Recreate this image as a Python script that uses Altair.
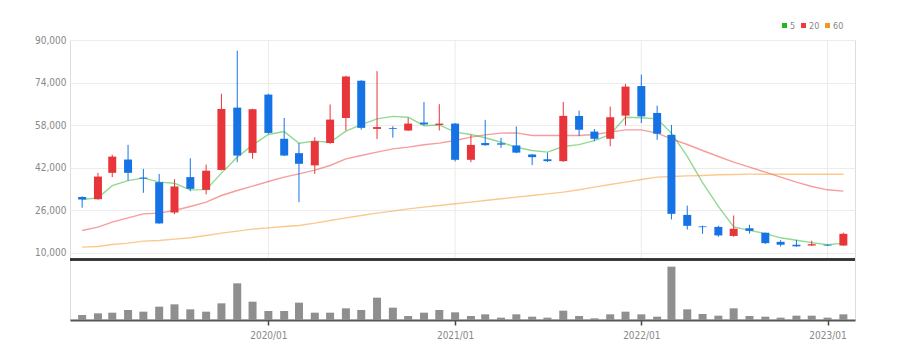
import altair as alt
import pandas as pd

# ---- data (monthly candles) ----
months = [
    "2019-01", "2019-02", "2019-03", "2019-04", "2019-05", "2019-06", "2019-07", "2019-08", "2019-09", "2019-10", "2019-11", "2019-12",
    "2020-01", "2020-02", "2020-03", "2020-04", "2020-05", "2020-06", "2020-07", "2020-08", "2020-09", "2020-10", "2020-11", "2020-12",
    "2021-01", "2021-02", "2021-03", "2021-04", "2021-05", "2021-06", "2021-07", "2021-08", "2021-09", "2021-10", "2021-11", "2021-12",
    "2022-01", "2022-02", "2022-03", "2022-04", "2022-05", "2022-06", "2022-07", "2022-08", "2022-09", "2022-10", "2022-11", "2022-12",
    "2023-01", "2023-02",
]
open_ = [31000, 30200, 40100, 45100, 38300, 36600, 25200, 38500, 33700, 41200, 64600, 47600,
         69500, 52900, 47500, 42900, 51300, 60700, 74700, 56600, 56900, 56000, 59000, 58100,
         58600, 45000, 51300, 51200, 50400, 47000, 45200, 44500, 61500, 55600, 52900, 61600,
         72700, 62600, 54400, 24300, 20000, 19800, 16400, 19300, 17600, 14200, 13100, 12800,
         13100, 12800]
high = [31300, 40100, 46900, 50600, 41600, 39700, 37700, 45600, 43200, 69800, 86000, 64200,
        69800, 60700, 51300, 53500, 65800, 76600, 74900, 78300, 57600, 60800, 66700, 65900,
        58800, 54400, 60000, 53300, 57500, 47200, 47700, 66700, 63500, 56600, 65000, 73500,
        77000, 65300, 58100, 27800, 20300, 20200, 24100, 20600, 17700, 14800, 14900, 14600,
        13200, 17600]
low = [27000, 30000, 38500, 37200, 32600, 21000, 24600, 33200, 32000, 41000, 44100, 45400,
       54700, 46400, 29100, 39700, 51000, 56000, 56300, 52800, 53300, 55800, 58000, 56000,
       44400, 44100, 50300, 49500, 47500, 43000, 44200, 44200, 53900, 52000, 50100, 57900,
       58800, 52500, 22600, 18800, 17200, 16100, 16100, 17300, 13400, 12400, 12300, 12600,
       12700, 12700]
close = [30100, 38700, 46200, 40100, 37900, 21100, 35000, 34100, 40900, 64100, 46600, 64000,
         55100, 46600, 43500, 52000, 60100, 76300, 57000, 57300, 56600, 58600, 58300, 58600,
         45000, 50600, 50500, 50700, 47700, 46000, 44500, 61500, 56300, 52900, 61000, 72500,
         61300, 54800, 24700, 20200, 19700, 16600, 19100, 18300, 13700, 13100, 12500, 13300,
         12800, 17200]
volume = [15, 20, 22, 30, 25, 40, 47, 32, 25, 50, 110, 55,
          27, 27, 52, 22, 22, 35, 30, 67, 37, 12, 22, 30,
          23, 12, 17, 7, 17, 10, 7, 28, 12, 5, 17, 25,
          17, 10, 160, 32, 18, 13, 35, 12, 10, 7, 13, 13,
          7, 17]
ma5 = [30100, 30700, 35300, 37200, 38200, 36600, 36200, 33700, 33800, 40000, 46000, 50500,
       54500, 55600, 51200, 52000, 51600, 55800, 58200, 60400, 61300, 61000, 57800, 58100,
       55400, 54500, 53300, 51600, 49700, 48500, 47900, 50000, 50700, 52200, 54500, 61000,
       60800, 60400, 55000, 46300, 36400, 27500, 19800, 18500, 17300, 15700, 14800, 13900,
       13100, 13700]
ma20 = [18450, 19700, 21580, 23210, 24710, 24960, 25960, 27460, 29090, 31600, 33470, 35100,
        36850, 38480, 39700, 41120, 42870, 45370, 46620, 47870, 49120, 49750, 50630, 51250,
        52250, 53500, 54380, 55010, 55130, 54140, 54140, 54140, 54140, 54510, 55380, 56260,
        56260, 55010, 52880, 50750, 48500, 46250, 44120, 42240, 40360, 38480, 36600, 34980,
        33730, 33220]
ma60 = [12190, 12440, 13190, 13690, 14440, 14700, 15200, 15700, 16570, 17450, 18200, 18950,
        19450, 19950, 20330, 21200, 22200, 23210, 24090, 24960, 25710, 26590, 27210, 27840,
        28470, 29090, 29720, 30350, 30970, 31600, 32220, 32850, 33730, 34730, 35730, 36600,
        37600, 38480, 38730, 38980, 39110, 39360, 39490, 39610, 39600, 39600, 39600, 39600,
        39600, 39600]
ma_names = ["5", "20", "60"]
ma_colors = ["#22b822", "#ee3b3b", "#f7941d"]
price_ticks = [10000, 26000, 42000, 58000, 74000, 90000]
year_ticks = [2020, 2021, 2022, 2023]

UP = "#e8353a"
DOWN = "#1673e6"
FONT = "Liberation Sans Narrow, DejaVu Sans Condensed, Roboto Condensed, Arial Narrow, sans-serif"

# ---- tables ----
df = pd.DataFrame({
    "date": pd.to_datetime([m + "-01" for m in months]),
    "open": open_, "high": high, "low": low, "close": close, "volume": volume,
})
ma_df = pd.concat([
    pd.DataFrame({"date": df["date"], "value": vals, "ma": name})
    for name, vals in zip(ma_names, [ma5, ma20, ma60])
])
years_df = pd.DataFrame({"date": pd.to_datetime([f"{y}-01-01" for y in year_ticks])})

# ---- scales / axes ----
x_scale = alt.Scale(domain=[alt.DateTime(year=2018, month=12, date=18),
                            alt.DateTime(year=2023, month=2, date=14)])
x_axis = alt.Axis(values=[alt.DateTime(year=y, month=1, date=1) for y in year_ticks],
                  format="%Y/%m", grid=False, domainColor="#555", domainWidth=2,
                  tickColor="#444", tickSize=5, tickWidth=1.5, labelColor="#888",
                  labelFontSize=10, labelPadding=5, labelFont=FONT, title=None)
X = alt.X("date:T", scale=x_scale, axis=x_axis, title=None)

price_scale = alt.Scale(domain=[-15168, 90000], nice=False, zero=False)
price_axis = alt.Axis(values=price_ticks, format=",.0f", grid=True, gridColor="#ececec",
                      domain=False, ticks=False, labelColor="#888", labelFontSize=10,
                      labelPadding=4, labelFont=FONT, title=None)

candle_color = alt.when(alt.datum.close >= alt.datum.open).then(alt.value(UP)).otherwise(alt.value(DOWN))

vgrid = alt.Chart(years_df).mark_rule(color="#ebebeb", strokeWidth=1).encode(
    x=X,
    y=alt.YDatum(90000, scale=price_scale, axis=price_axis),
    y2=alt.datum(7560),
)

lines = alt.Chart(ma_df).mark_line(strokeWidth=1.4, strokeOpacity=0.5).encode(
    x=X,
    y=alt.Y("value:Q", scale=price_scale, axis=price_axis),
    color=alt.Color("ma:N", scale=alt.Scale(domain=ma_names, range=ma_colors),
                    sort=ma_names,
                    legend=alt.Legend(orient="none", legendX=710, legendY=-19,
                                      direction="horizontal", title=None,
                                      symbolType="square", symbolSize=4,
                                      symbolStrokeWidth=3, labelFontSize=9,
                                      labelColor="#888", labelFont=FONT,
                                      labelOffset=1, columnPadding=0,
                                      gridAlign="none", padding=0)),
    detail="ma:N",
)

wicks = alt.Chart(df).mark_rule(strokeWidth=1).encode(
    x=X,
    y=alt.Y("low:Q", scale=price_scale, axis=price_axis),
    y2="high:Q",
    color=candle_color,
)
bodies = alt.Chart(df).mark_bar(size=8).encode(
    x=X,
    y=alt.Y("open:Q", scale=price_scale, axis=price_axis),
    y2="close:Q",
    color=candle_color,
)
baseline = alt.Chart(years_df).mark_rule(color="#333", strokeWidth=2).encode(
    y=alt.YDatum(7560, scale=price_scale, axis=price_axis))

price = alt.layer(vgrid, lines, wicks, bodies, baseline)

vol = alt.Chart(df).mark_bar(size=8, color="#8f8f8f").encode(
    x=X,
    y=alt.Y("volume:Q", scale=alt.Scale(domain=[0, 840], nice=False), axis=None),
)

chart = alt.layer(price, vol).resolve_scale(y="independent").properties(
    width=785, height=280,
    autosize=alt.AutoSizeParams(type="none"),
    padding={"left": 62, "top": 32, "right": 30, "bottom": 32},
).configure_view(stroke=None).configure(font=FONT, background="white").configure_legend(
    columnPadding=0, gridAlign="none")

chart.save("out.html", embed_options={"renderer": "svg", "actions": False})
